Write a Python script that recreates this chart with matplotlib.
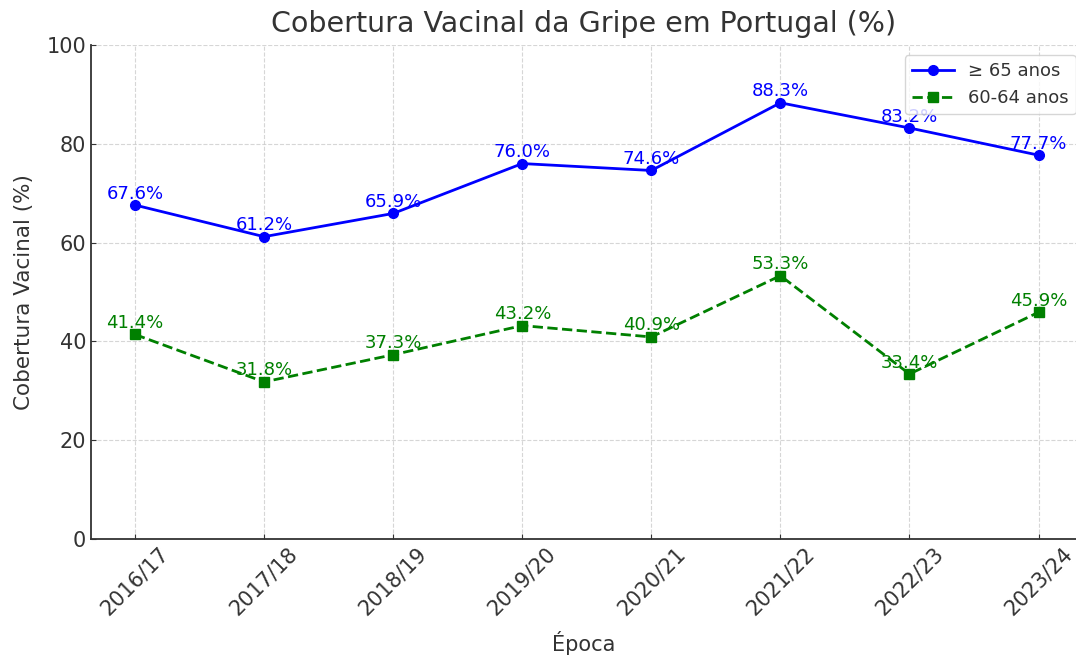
import matplotlib.pyplot as plt

# data
epocas = ["2016/17", "2017/18", "2018/19", "2019/20", "2020/21", "2021/22", "2022/23", "2023/24"]
mais_65 = [67.6, 61.2, 65.9, 76.0, 74.6, 88.3, 83.2, 77.7]
entre_60_64 = [41.4, 31.8, 37.3, 43.2, 40.9, 53.3, 33.4, 45.9]

txt = '#333333'
plt.rcParams['text.color'] = txt
plt.rcParams['axes.labelcolor'] = txt
plt.rcParams['xtick.color'] = txt
plt.rcParams['ytick.color'] = txt

fig = plt.figure(figsize=(10.76, 6.55), dpi=100)
ax = fig.add_axes([91/1076, 1 - 539/655, 1 - 91/1076, (539 - 45)/655])

x = list(range(len(epocas)))
ax.plot(x, mais_65, marker='o', color='blue', linewidth=2, markersize=7, label='≥ 65 anos')
ax.plot(x, entre_60_64, marker='s', color='green', linestyle='--', linewidth=2, markersize=7, label='60-64 anos')

for i, v in enumerate(mais_65):
    ax.text(i, v + 0.5, f"{v}%", ha='center', va='bottom', color='blue', fontsize=13)
for i, v in enumerate(entre_60_64):
    ax.text(i, v + 0.5, f"{v}%", ha='center', va='bottom', color='green', fontsize=13)

ax.set_xticks(x)
ax.set_xticklabels(epocas, rotation=45, fontsize=15)
ax.tick_params(axis='y', labelsize=15)
ax.tick_params(direction='in')
ax.set_xlim(-0.341, 7.29)
ax.set_ylim(0, 100)

ax.set_title("Cobertura Vacinal da Gripe em Portugal (%)", fontsize=20.5, pad=9)
ax.set_xlabel("Época", fontsize=15, labelpad=8.5)
ax.set_ylabel("Cobertura Vacinal (%)", fontsize=15.5, labelpad=9)

ax.grid(True, linestyle='--', color='#cccccc', alpha=0.8)
ax.spines['top'].set_visible(False)
ax.spines['right'].set_visible(False)
ax.spines['left'].set_color('#333333')
ax.spines['bottom'].set_color('#333333')
ax.spines['left'].set_linewidth(1.3)
ax.spines['bottom'].set_linewidth(1.3)

ax.legend(loc='upper right', bbox_to_anchor=(1.009, 0.998), fontsize=13, handlelength=2.3)

plt.savefig("out.png", dpi=100)
